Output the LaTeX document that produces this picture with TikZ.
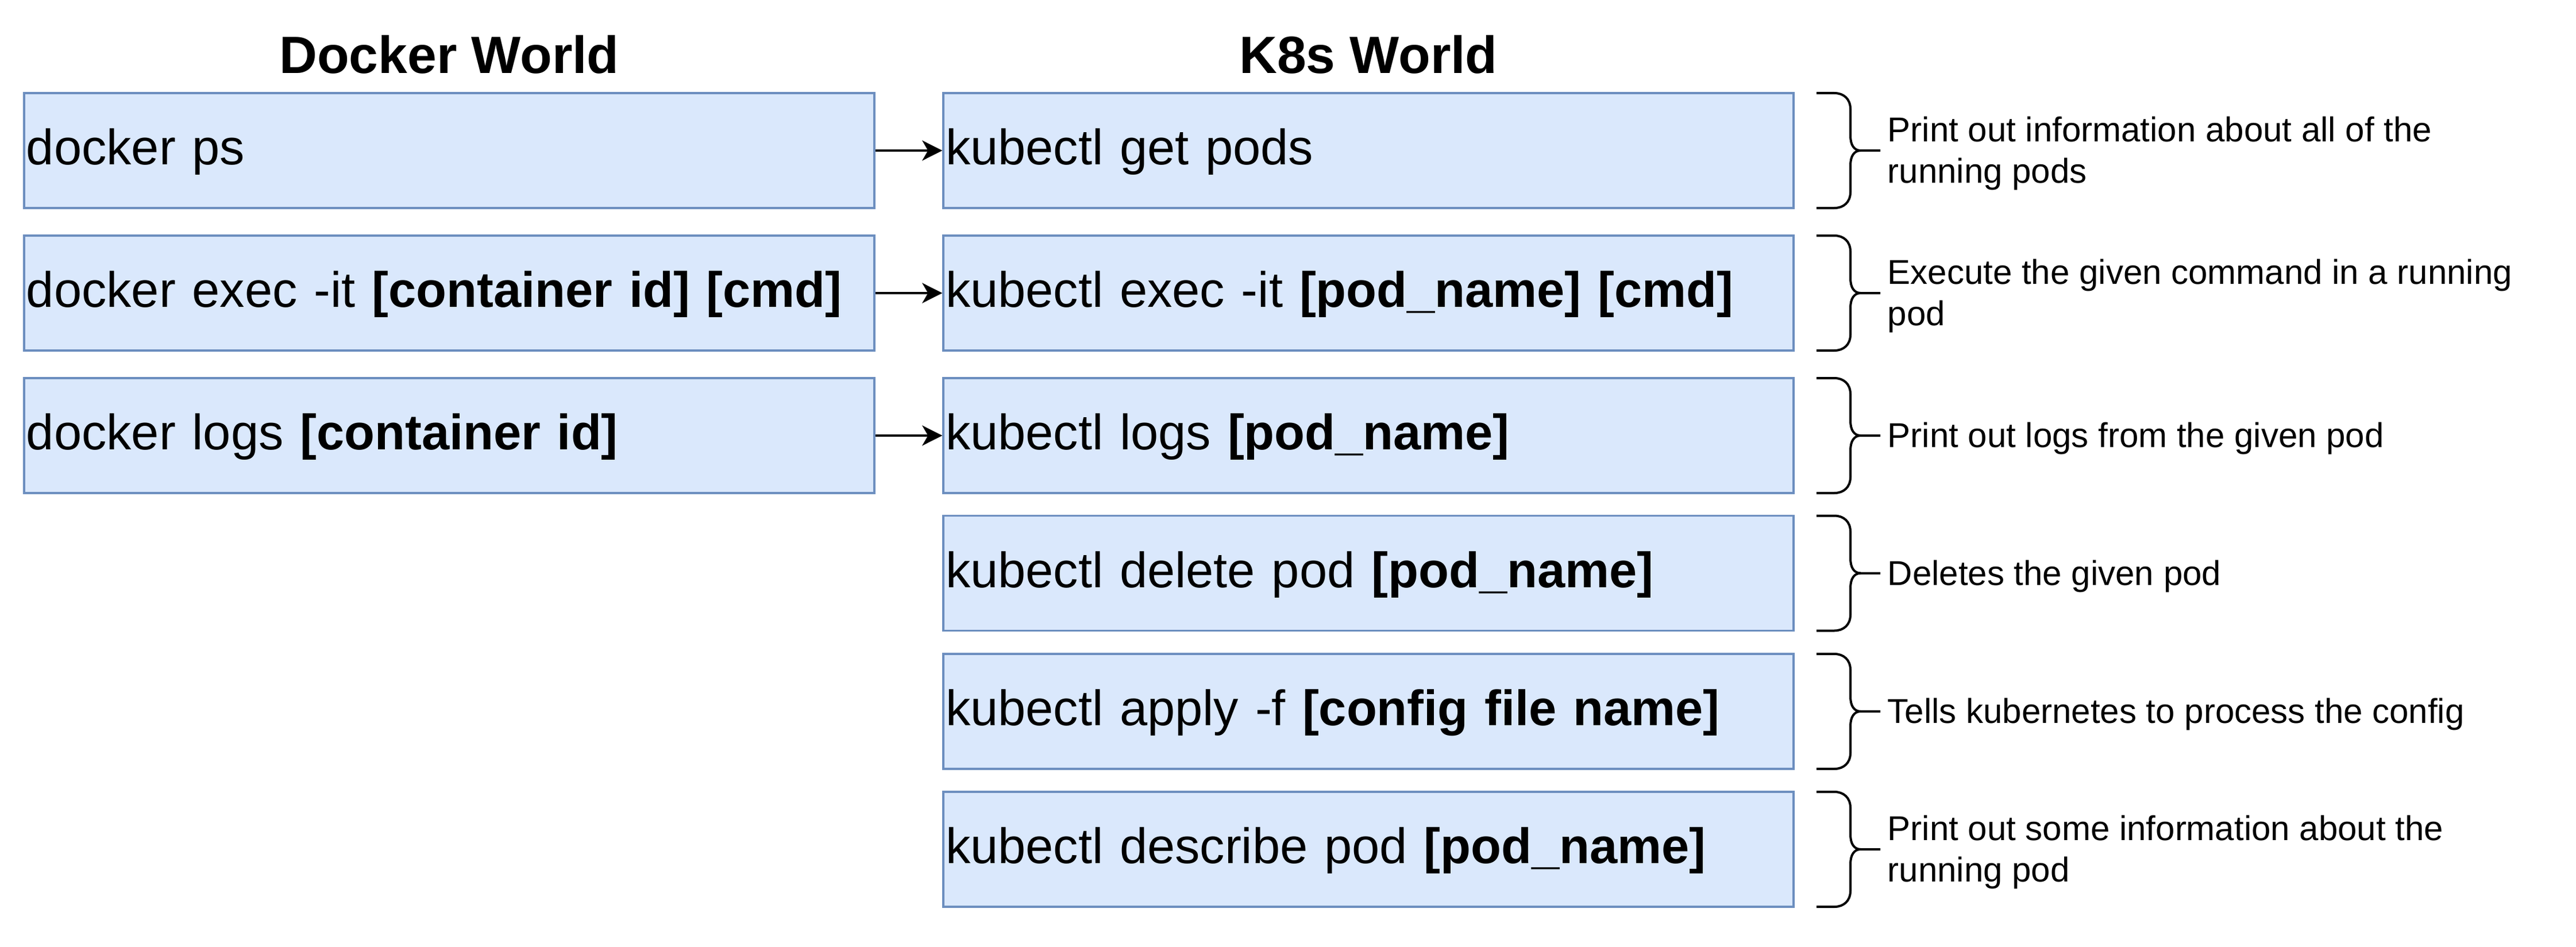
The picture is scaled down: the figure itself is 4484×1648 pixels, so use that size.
\documentclass[tikz,border=0pt]{standalone}
\usepackage{fontspec}
\setmainfont{Liberation Sans}
\usetikzlibrary{arrows.meta}
\definecolor{boxfill}{HTML}{DAE8FC}
\definecolor{boxline}{HTML}{6C8EBF}
\begin{document}
\begin{tikzpicture}[x=0.25pt,y=-0.25pt,
  cmdbox/.style={draw=boxline, fill=boxfill, line width=0.85pt,
    minimum width=370pt, minimum height=50pt, text width=368pt,
    inner xsep=1pt, inner ysep=0pt, align=left,
    font=\fontsize{21.65}{26}\selectfont, text height=16.3pt, text depth=4pt},
  title/.style={font=\bfseries\fontsize{22.8}{27}\selectfont, anchor=base, inner sep=0pt},
  desc/.style={font=\fontsize{15}{18}\selectfont, anchor=west, align=left, inner sep=0pt},
  arr/.style={line width=1pt, -{Stealth[length=8.75pt, width=8.75pt, inset=2.5pt]}},
  bracket/.style={line width=1pt}
]
\useasboundingbox (0,0) rectangle (4484,1648);

% titles
\node[title] (tdocker) at (782,128) {Docker World};
\node[title] (tk8s) at (2382,128) {K8s World};

% docker column
\node[cmdbox] (d1) at (782,262) {docker ps};
\node[cmdbox] (d2) at (782,510) {docker exec -it \textbf{[container id] [cmd]}};
\node[cmdbox] (d3) at (782,758) {docker logs \textbf{[container id]}};

% k8s column
\node[cmdbox] (k1) at (2382,262) {kubectl get pods};
\node[cmdbox] (k2) at (2382,510) {kubectl exec -it \textbf{[pod\_name] [cmd]}};
\node[cmdbox] (k3) at (2382,758) {kubectl logs \textbf{[pod\_name]}};
\node[cmdbox] (k4) at (2382,997.5) {kubectl delete pod \textbf{[pod\_name]}};
\node[cmdbox] (k5) at (2382,1238) {kubectl apply -f \textbf{[config file name]}};
\node[cmdbox] (k6) at (2382,1478) {kubectl describe pod \textbf{[pod\_name]}};

% arrows
\draw[arr] (d1.east) -- (k1.west);
\draw[arr] (d2.east) -- (k2.west);
\draw[arr] (d3.east) -- (k3.west);

% braces
\foreach \c in {262,510,758,997.5,1238,1478}{
  \draw[bracket] (3162,{\c-100}) -- (3193,{\c-100})
    .. controls (3209,{\c-100}) and (3221,{\c-90}) .. (3221,{\c-72})
    -- (3221,{\c-26})
    .. controls (3221,{\c-10}) and (3227,{\c}) .. (3239,{\c})
    -- (3273,{\c});
  \draw[bracket] (3239,{\c})
    .. controls (3227,{\c}) and (3221,{\c+10}) .. (3221,{\c+26})
    -- (3221,{\c+72})
    .. controls (3221,{\c+90}) and (3209,{\c+100}) .. (3193,{\c+100})
    -- (3162,{\c+100});
}

% descriptions
\node[desc] (t1) at (3285,267) {Print out information about all of the\\running pods};
\node[desc] (t2) at (3285,515) {Execute the given command in a running\\pod};
\node[desc] (t3) at (3285,763) {Print out logs from the given pod};
\node[desc] (t4) at (3285,1002.5) {Deletes the given pod};
\node[desc] (t5) at (3285,1243) {Tells kubernetes to process the config};
\node[desc] (t6) at (3285,1483) {Print out some information about the\\running pod};
\end{tikzpicture}
\end{document}
